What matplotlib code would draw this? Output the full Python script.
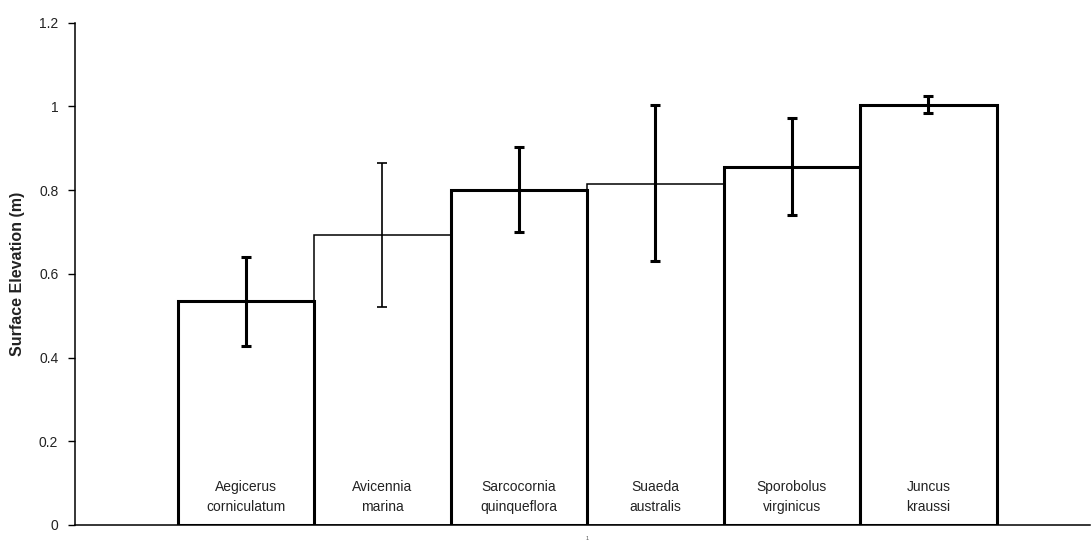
import matplotlib
matplotlib.use("Agg")
import matplotlib.pyplot as plt
import numpy as np

species = ["Aegicerus\ncorniculatum", "Avicennia\nmarina", "Sarcocornia\nquinqueflora",
           "Suaeda\naustralis", "Sporobolus\nvirginicus", "Juncus\nkraussi"]
elevation = [0.535, 0.692, 0.800, 0.815, 0.854, 1.004]
err_low = [0.428, 0.520, 0.700, 0.630, 0.740, 0.984]
err_high = [0.640, 0.865, 0.902, 1.002, 0.971, 1.025]
edge_widths = [2.2, 1.1, 2.2, 1.1, 2.2, 2.2]
err_widths = [2.2, 1.2, 2.2, 2.2, 2.2, 2.2]
yticks = [0, 0.2, 0.4, 0.6, 0.8, 1, 1.2]
ytick_labels = ["0", "0.2", "0.4", "0.6", "0.8", "1", "1.2"]
category_label = ["1"]

plt.rcParams['font.family'] = ['Liberation Sans', 'DejaVu Sans']

fig = plt.figure(figsize=(10.91, 5.43), dpi=100)
ax = fig.add_axes([75/1091, 1 - 525/543, (1090 - 75)/1091, (525 - 22.5)/543])

x = np.arange(len(species))
for i in range(len(species)):
    z = 3 if edge_widths[i] > 1.5 else 2
    ax.bar(x[i], elevation[i], width=1.0, color="white", edgecolor="black",
           linewidth=edge_widths[i], zorder=z)
    lo = elevation[i] - err_low[i]
    hi = err_high[i] - elevation[i]
    ax.errorbar(x[i], elevation[i], yerr=[[lo], [hi]], fmt="none", ecolor="black",
                elinewidth=err_widths[i], capsize=3.8, capthick=err_widths[i], zorder=5)
    ax.text(x[i], 0.067, species[i], ha="center", va="center", fontsize=10,
            color="#222222", linespacing=1.6, zorder=6)

ax.set_xlim(-1.251, 6.183)
ax.set_ylim(0, 1.2)
ax.set_yticks(yticks)
ax.set_yticklabels(ytick_labels, fontsize=10, color="#222222")
ax.set_xticks([2.5])
ax.set_xticklabels(category_label, fontsize=4, color="#555555")
ax.tick_params(axis="x", length=0, pad=8)
ax.tick_params(axis="y", direction="out", length=5, width=1, pad=7)
ax.spines["top"].set_visible(False)
ax.spines["right"].set_visible(False)
ax.spines["left"].set_linewidth(1.1)
ax.spines["bottom"].set_linewidth(1.1)
ax.set_ylabel("Surface Elevation (m)", fontsize=11.5, fontweight="bold", color="#222222", labelpad=10)

fig.savefig("out.png", dpi=100)
